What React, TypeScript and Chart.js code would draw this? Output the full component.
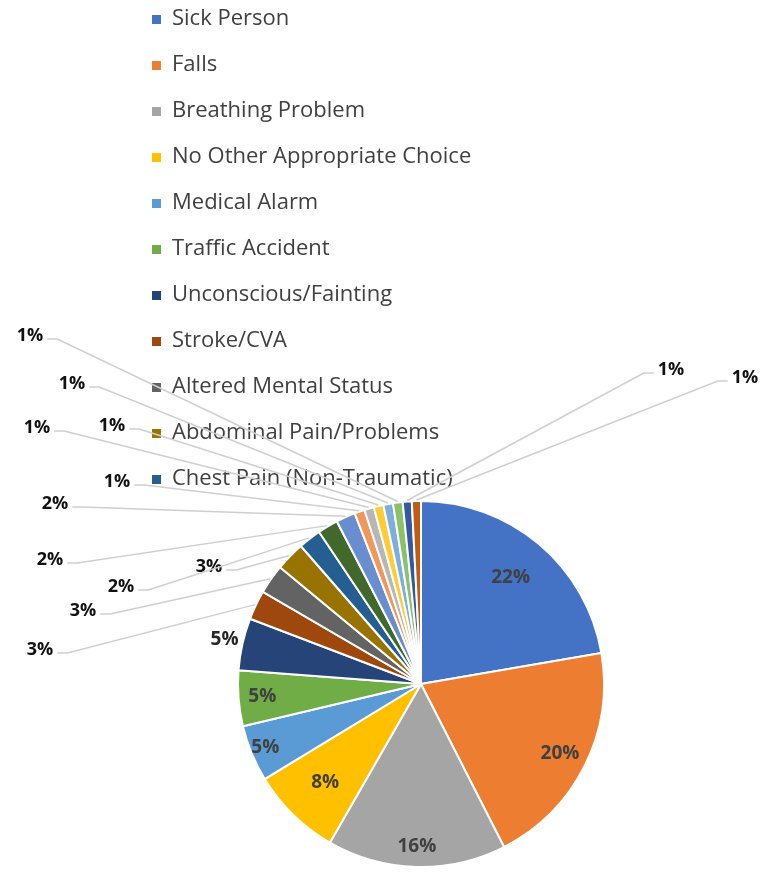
import React, { useEffect, useRef } from "react";
import { Chart, registerables } from "chart.js";

Chart.register(...registerables);

// ---- data ----
const categories: string[] = [
  "Sick Person",
  "Falls",
  "Breathing Problem",
  "No Other Appropriate Choice",
  "Medical Alarm",
  "Traffic Accident",
  "Unconscious/Fainting",
  "Stroke/CVA",
  "Altered Mental Status",
  "Abdominal Pain/Problems",
  "Chest Pain (Non-Traumatic)",
  "Category 12",
  "Category 13",
  "Category 14",
  "Category 15",
  "Category 16",
  "Category 17",
  "Category 18",
  "Category 19",
  "Category 20",
];

const shares: number[] = [
  22.3, 20.2, 15.8, 8.0, 5.0, 4.9, 4.6, 2.6, 2.6, 2.6, 2.0, 1.8, 1.7, 0.9, 0.85, 0.85, 0.85, 0.85, 0.8, 0.8,
];

const sliceColors: string[] = [
  "#4472C4", "#ED7D31", "#A5A5A5", "#FFC000", "#5B9BD5", "#70AD47",
  "#264478", "#9E480E", "#636363", "#997300", "#255E91", "#43682B",
  "#698ED0", "#F1975A", "#B7B7B7", "#FFCD33", "#7CAFDD", "#8CC168",
  "#335AA1", "#C55A11",
];

const legendCount = 11;

// label layout (inside labels: radial factor along the slice mid-angle;
// outside labels: free placement with leader lines)
const insideRadius: (number | null)[] = [0.76, 0.85, 0.89, 0.75, 0.92, 0.87, 1.1];
const outsideSpots: { x: number; y: number; side: "l" | "r" }[] = [
  { x: 40, y: 650, side: "l" },
  { x: 83, y: 611, side: "l" },
  { x: 209, y: 567, side: "l" },
  { x: 121, y: 587, side: "l" },
  { x: 50, y: 560, side: "l" },
  { x: 55, y: 504, side: "l" },
  { x: 117, y: 482, side: "l" },
  { x: 37, y: 428, side: "l" },
  { x: 112, y: 426, side: "l" },
  { x: 72, y: 384, side: "l" },
  { x: 30, y: 336, side: "l" },
  { x: 671, y: 370, side: "r" },
  { x: 745, y: 378, side: "r" },
];

const legendPlugin = {
  id: "stackedLegend",
  beforeDraw(chart: any) {
    const ctx = chart.ctx as CanvasRenderingContext2D;
    ctx.save();
    ctx.font = '22px "Open Sans"';
    ctx.textBaseline = "middle";
    ctx.textAlign = "left";
    for (let i = 0; i < legendCount; i++) {
      const y = 19 + i * 46;
      ctx.fillStyle = sliceColors[i];
      ctx.fillRect(152, y - 4, 9, 9);
      ctx.fillStyle = "#404040";
      ctx.fillText(categories[i], 172, y);
    }
    ctx.restore();
  },
};

const labelPlugin = {
  id: "sliceLabels",
  afterDraw(chart: any) {
    const ctx = chart.ctx as CanvasRenderingContext2D;
    const meta = chart.getDatasetMeta(0);
    const total = shares.reduce((a, b) => a + b, 0);
    ctx.save();
    ctx.textBaseline = "middle";
    ctx.textAlign = "center";
    meta.data.forEach((arc: any, i: number) => {
      const pct = Math.round((shares[i] / total) * 100) + "%";
      const mid = (arc.startAngle + arc.endAngle) / 2;
      const r = arc.outerRadius;
      if (i < insideRadius.length && insideRadius[i] != null) {
        const f = insideRadius[i] as number;
        const x = arc.x + Math.cos(mid) * r * f;
        const y = arc.y + Math.sin(mid) * r * f;
        ctx.font = 'bold 19px "Open Sans"';
        ctx.fillStyle = f > 1 ? "#262626" : "#404040";
        ctx.fillText(pct, x, y);
      } else {
        const spot = outsideSpots[i - insideRadius.length];
        if (!spot) return;
        ctx.font = 'bold 18px "Open Sans"';
        const w = ctx.measureText(pct).width;
        const ex = arc.x + Math.cos(mid) * (r + 1);
        const ey = arc.y + Math.sin(mid) * (r + 1);
        const sx = spot.side === "l" ? spot.x + w / 2 + 4 : spot.x - w / 2 - 4;
        const sy = spot.y + 3;
        const kx = spot.side === "l" ? sx + 10 : sx - 10;
        ctx.strokeStyle = "#CFCFCF";
        ctx.lineWidth = 1.5;
        ctx.beginPath();
        ctx.moveTo(sx, sy);
        ctx.lineTo(kx, sy);
        ctx.lineTo(ex, ey);
        ctx.stroke();
        ctx.fillStyle = "#111111";
        ctx.fillText(pct, spot.x, spot.y);
      }
    });
    ctx.restore();
  },
};

export default function App() {
  const ref = useRef<HTMLCanvasElement | null>(null);
  useEffect(() => {
    if (!ref.current) return;
    const chart = new Chart(ref.current, {
      type: "pie",
      data: {
        labels: categories,
        datasets: [
          {
            data: shares,
            backgroundColor: sliceColors,
            borderColor: "#ffffff",
            borderWidth: 2,
          },
        ],
      },
      options: {
        responsive: false,
        animation: false,
        devicePixelRatio: 1,
        layout: { padding: { left: 237, right: 156, top: 500, bottom: 4 } },
        plugins: {
          legend: { display: false },
          tooltip: { enabled: false },
        },
        events: [],
      },
      plugins: [legendPlugin, labelPlugin],
    });
    return () => chart.destroy();
  }, []);
  return (
    <div style={{ position: "absolute", left: 0, top: 0, width: 761, height: 872, background: "#fff" }}>
      <canvas ref={ref} width={761} height={872} style={{ display: "block" }} />
    </div>
  );
}
